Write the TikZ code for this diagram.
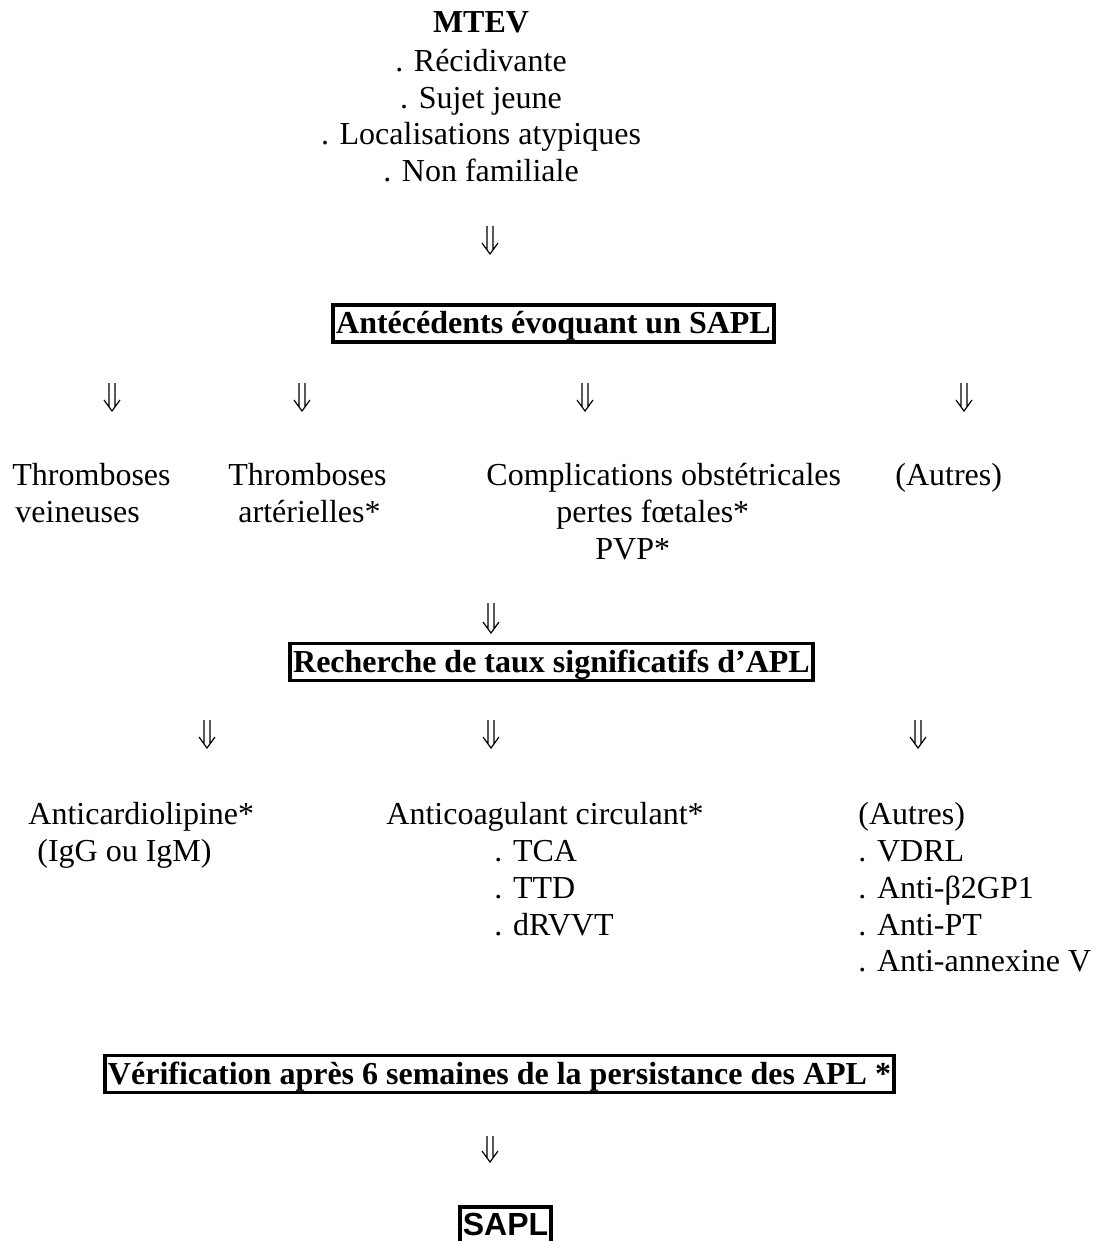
\documentclass[tikz,border=0pt]{standalone}
\usepackage{fontspec}
\setmainfont{Liberation Serif}
\newfontfamily\arialfont{Liberation Sans}
\usetikzlibrary{calc}
\begin{document}
\begin{tikzpicture}[x=0.5pt,y=-0.5pt,
  txt/.style={anchor=base west, inner sep=0pt, font=\fontsize{16}{18}\selectfont},
  ctxt/.style={anchor=base, inner sep=0pt, font=\fontsize{16}{18}\selectfont},
  boxed/.style={draw, line width=1.8pt, inner xsep=1.5pt, inner ysep=0pt,
    minimum height=18.5pt, text height=13pt, text depth=3pt,
    font=\fontsize{16}{18}\selectfont\bfseries},
  dnarrow/.style={line width=0.6pt, line join=miter, to path={
    ($(\tikztostart)+(-3,0)$) -- ($(\tikztotarget)+(-3,-4.1)$)
    ($(\tikztostart)+(3,0)$) -- ($(\tikztotarget)+(3,-4.1)$)
    ($(\tikztotarget)+(-8,-11)$) -- (\tikztotarget) -- ($(\tikztotarget)+(8,-11)$)}}]
\useasboundingbox (0,0) rectangle (1092,1241);

% top block
\node[ctxt, font=\fontsize{16}{18}\selectfont\bfseries] (mtev) at (481,33) {MTEV};
\node[ctxt] (l1) at (481,72) {. Récidivante};
\node[ctxt] (l2) at (481,109) {. Sujet jeune};
\node[ctxt] (l3) at (481,145) {. Localisations atypiques};
\node[ctxt] (l4) at (481,182) {. Non familiale};

\coordinate (a0s) at (490,226); \coordinate (a0e) at (490,254);
\draw[dnarrow] (a0s) to (a0e);

\node[boxed] (b1) at (553.5,323.5) {Antécédents évoquant un SAPL};

% row 1 arrows
\foreach \i/\x in {1/112,2/302,3/585,4/964}{
  \coordinate (r1s\i) at (\x,383); \coordinate (r1e\i) at (\x,411);
  \draw[dnarrow] (r1s\i) to (r1e\i);
}

% row 1 texts
\node[txt] (t1a) at (12,485) {Thromboses};
\node[txt] (t1b) at (15,522) {veineuses};
\node[txt] (t2a) at (228,485) {Thromboses};
\node[txt] (t2b) at (238,522) {artérielles*};
\node[txt] (t3a) at (486,485) {Complications obstétricales};
\node[txt] (t3b) at (556,522) {pertes fœtales*};
\node[txt] (t3c) at (595,559) {PVP*};
\node[txt] (t4a) at (895,485) {(Autres)};

\coordinate (a5s) at (491,603); \coordinate (a5e) at (491,633);
\draw[dnarrow] (a5s) to (a5e);

\node[boxed] (b2) at (551.5,662) {Recherche de taux significatifs d’APL};

% row 2 arrows
\foreach \i/\x in {1/207,2/491,3/918}{
  \coordinate (r2s\i) at (\x,720); \coordinate (r2e\i) at (\x,748);
  \draw[dnarrow] (r2s\i) to (r2e\i);
}

% row 2 texts
\node[txt] (u1a) at (28,824) {Anticardiolipine*};
\node[txt] (u1b) at (37,861) {(IgG ou IgM)};
\node[txt] (u2a) at (386,824) {Anticoagulant circulant*};
\node[txt] (u2b) at (494,861) {. TCA};
\node[txt] (u2c) at (494,898) {. TTD};
\node[txt] (u2d) at (494,935) {. dRVVT};
\node[txt] (u3a) at (858,824) {(Autres)};
\node[txt] (u3b) at (858,861) {. VDRL};
\node[txt] (u3c) at (858,898) {. Anti-β2GP1};
\node[txt] (u3d) at (858,935) {. Anti-PT};
\node[txt] (u3e) at (858,971) {. Anti-annexine V};

\node[boxed] (b3) at (499.5,1074) {Vérification après 6 semaines de la persistance des APL *};

\coordinate (a9s) at (490,1136); \coordinate (a9e) at (490,1162);
\draw[dnarrow] (a9s) to (a9e);

\node[boxed, font=\fontsize{16}{18}\selectfont\arialfont\bfseries, text height=13.25pt, text depth=3.25pt] (b4) at (505.5,1225.5) {SAPL};
\end{tikzpicture}
\end{document}
